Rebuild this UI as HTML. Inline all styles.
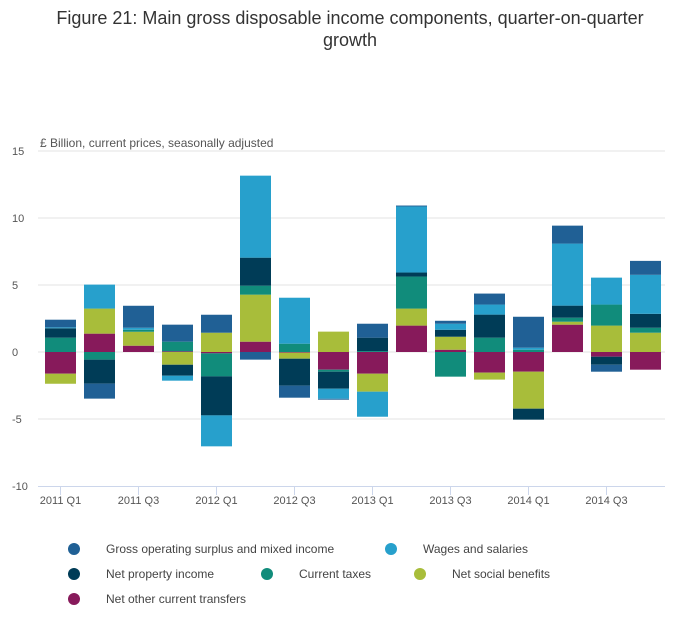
<!DOCTYPE html>
<html><head><meta charset="utf-8"><style>
body{margin:0;background:#fff;width:700px;height:635px;overflow:hidden;font-family:"Liberation Sans",sans-serif;}
svg text{font-family:"Liberation Sans",sans-serif;}
</style></head><body>
<svg id="chart" width="700" height="635">
<text x="350" y="24" text-anchor="middle" font-size="18" fill="#333">Figure 21: Main gross disposable income components, quarter-on-quarter</text>
<text x="350" y="46" text-anchor="middle" font-size="18" fill="#333">growth</text>
<text x="40" y="147" font-size="12" fill="#555">£ Billion, current prices, seasonally adjusted</text>
<g id="grid"></g><g id="bars"></g><g id="xlabels"></g><g id="legend"></g>
</svg>
<script>
const categories=["2011 Q1","2011 Q2","2011 Q3","2011 Q4","2012 Q1","2012 Q2","2012 Q3","2012 Q4","2013 Q1","2013 Q2","2013 Q3","2013 Q4","2014 Q1","2014 Q2","2014 Q3","2014 Q4"];
const seriesNames=["Net other current transfers","Net social benefits","Current taxes","Net property income","Wages and salaries","Gross operating surplus and mixed income"];
const otherTransfers=[-1.62,1.37,0.47,0.05,-0.1,0.77,-0.05,-1.32,-1.62,1.97,0.17,-1.54,-1.47,2.04,-0.35,-1.32];
const socialBenefits=[-0.75,1.87,1.04,-0.95,1.44,3.51,-0.45,1.52,-1.34,1.27,0.97,-0.52,-2.76,0.22,1.97,1.44];
const currentTaxes=[1.07,-0.57,0.15,0.72,-1.72,0.67,0.62,-0.15,0.07,2.39,-1.84,1.07,0.17,0.3,1.57,0.37];
const propertyIncome=[0.7,-1.79,0,-0.82,-2.91,2.09,-2.01,-1.27,1.0,0.3,0.52,1.72,-0.82,0.9,-0.6,1.04];
const wages=[0.07,1.79,0.15,-0.37,-2.31,6.12,3.43,-0.75,-1.87,4.93,0.45,0.75,0.15,4.63,2.01,2.91];
const gos=[0.57,-1.12,1.64,1.27,1.34,-0.57,-0.9,-0.07,1.04,0.07,0.22,0.82,2.31,1.34,-0.52,1.04];
const yTicks=[15,10,5,0,-5];
const xTickLabels=["2011 Q1","2011 Q3","2012 Q1","2012 Q3","2013 Q1","2013 Q3","2014 Q1","2014 Q3"];
const colors=["#871a5b","#a8bd3a","#118c7b","#003c57","#27a0cc","#206095"];
const legendOrder=[5,4,3,2,1,0];
const NS="http://www.w3.org/2000/svg";
const series=[otherTransfers,socialBenefits,currentTaxes,propertyIncome,wages,gos];
const y=v=>352-v*13.4;
const x=i=>60.5+i*39;
function mk(t,a,p){const e=document.createElementNS(NS,t);for(const k in a)e.setAttribute(k,a[k]);p.appendChild(e);return e;}
const grid=document.getElementById('grid');
yTicks.forEach(t=>{
 const l=mk('line',{x1:38,x2:665,y1:y(t),y2:y(t),stroke:'#e3e3e3','stroke-width':1},grid);
 
 
});
[...yTicks,-10].forEach(t=>{
 const tx=mk('text',{x:12,y:y(t)+4,'font-size':11,fill:'#555'},grid);tx.textContent=t;
 
 
});
const ax=mk('line',{x1:38,x2:665,y1:y(-10)+0.5,y2:y(-10)+0.5,stroke:'#ccd6eb'},grid);


const bars=document.getElementById('bars');
categories.forEach((c,i)=>{
 let pos=0,neg=0;
 series.forEach((s,k)=>{
  const v=s[i];if(!v)return;let y0,y1;
  if(v>0){y0=pos;pos+=v;y1=pos;}else{y0=neg;neg+=v;y1=neg;}
  const r=mk('rect',{x:x(i)-15.5,width:31,y:Math.min(y(y0),y(y1)),height:Math.abs(y(y0)-y(y1)),fill:colors[k]},bars);
  
  
 });
});
const xl=document.getElementById('xlabels');
categories.forEach((c,i)=>{
 if(!xTickLabels.includes(c))return;
 const t=mk('line',{x1:x(i),x2:x(i),y1:486,y2:495,stroke:'#ccd6eb'},xl);
 
 
 const tx=mk('text',{x:x(i),y:504,'font-size':11,fill:'#555','text-anchor':'middle'},xl);tx.textContent=c;
 
 
});
const lg=document.getElementById('legend');
const lpos=[[74,549],[391,549],[74,574],[267,574],[420,574],[74,599]];
legendOrder.forEach((k,j)=>{
 const [lx,ly]=lpos[j];
 const g=mk('g',{},lg);
 
 
 mk('circle',{cx:lx,cy:ly,r:6,fill:colors[k]},g);
 const t=mk('text',{x:lx+32,y:ly+4,'font-size':12,fill:'#444'},g);t.textContent=seriesNames[k];
});
</script>
</body></html>
